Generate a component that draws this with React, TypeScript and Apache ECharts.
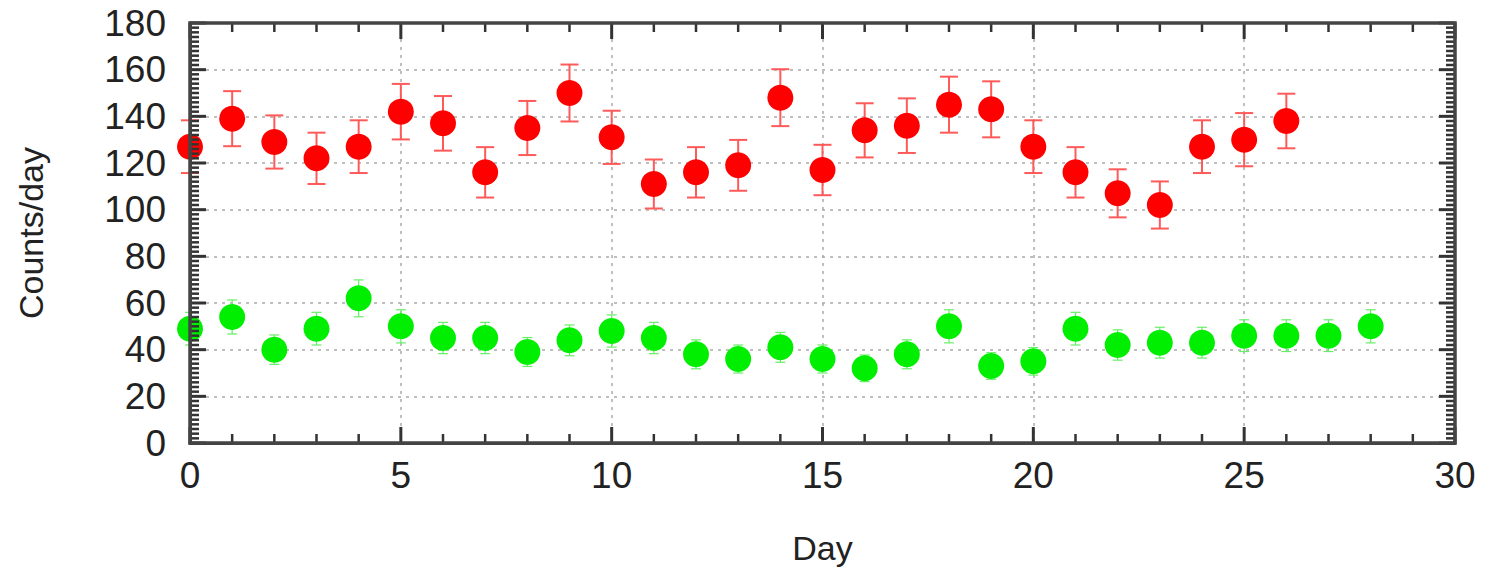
import React, { useEffect, useRef } from "react";
import * as echarts from "echarts";

const redDays = [0, 1, 2, 3, 4, 5, 6, 7, 8, 9, 10, 11, 12, 13, 14, 15, 16, 17, 18, 19, 20, 21, 22, 23, 24, 25, 26];
const redCounts = [127, 139, 129, 122, 127, 142, 137, 116, 135, 150, 131, 111, 116, 119, 148, 117, 134, 136, 145, 143, 127, 116, 107, 102, 127, 130, 138];
const redErr = [11.3, 11.8, 11.4, 11.0, 11.3, 11.9, 11.7, 10.8, 11.6, 12.2, 11.4, 10.5, 10.8, 10.9, 12.2, 10.8, 11.6, 11.7, 12.0, 12.0, 11.3, 10.8, 10.3, 10.1, 11.3, 11.4, 11.7];

const greenDays = [0, 1, 2, 3, 4, 5, 6, 7, 8, 9, 10, 11, 12, 13, 14, 15, 16, 17, 18, 19, 20, 21, 22, 23, 24, 25, 26, 27, 28];
const greenCounts = [49, 54, 40, 49, 62, 50, 45, 45, 39, 44, 48, 45, 38, 36, 41, 36, 32, 38, 50, 33, 35, 49, 42, 43, 43, 46, 46, 46, 50];
const greenErr = [7.0, 7.3, 6.3, 7.0, 7.9, 7.1, 6.7, 6.7, 6.2, 6.6, 6.9, 6.7, 6.2, 6.0, 6.4, 6.0, 5.7, 6.2, 7.1, 5.7, 5.9, 7.0, 6.5, 6.6, 6.6, 6.8, 6.8, 6.8, 7.1];

const xTicks = { min: 0, max: 30, interval: 5, minorStep: 1 };
const yTicks = { min: 0, max: 180, interval: 20, minorStep: 2 };

function errorBars(color: string, capHalf: number, width: number) {
  return (params: any, api: any) => {
    const x = api.value(0);
    const lo = api.coord([x, api.value(1)]);
    const hi = api.coord([x, api.value(2)]);
    const style = { stroke: color, lineWidth: width };
    return {
      type: "group",
      children: [
        { type: "line", shape: { x1: lo[0], y1: lo[1], x2: hi[0], y2: hi[1] }, style },
        { type: "line", shape: { x1: hi[0] - capHalf, y1: hi[1], x2: hi[0] + capHalf, y2: hi[1] }, style },
        { type: "line", shape: { x1: lo[0] - capHalf, y1: lo[1], x2: lo[0] + capHalf, y2: lo[1] }, style },
      ],
    };
  };
}

// frame + mirrored inside ticks, positioned through the axes' scales
function frameTicks(params: any, api: any) {
  const kind = api.value(0); // 0 = x tick, 1 = y tick, 2 = frame
  const v = api.value(1);
  const major = api.value(2) === 1;
  const len = major ? 16 : 9;
  const tickStyle = { stroke: "#333", lineWidth: major ? 3 : 2.5 };
  if (kind === 2) {
    const a = api.coord([xTicks.min, yTicks.max]);
    const b = api.coord([xTicks.max, yTicks.min]);
    return {
      type: "rect",
      shape: { x: a[0], y: a[1], width: b[0] - a[0], height: b[1] - a[1] },
      style: { fill: "none", stroke: "#444", lineWidth: 3.5 },
    };
  }
  if (kind === 0) {
    const b = api.coord([v, yTicks.min]);
    const t = api.coord([v, yTicks.max]);
    return {
      type: "group",
      children: [
        { type: "line", shape: { x1: b[0], y1: b[1], x2: b[0], y2: b[1] - len }, style: tickStyle },
        { type: "line", shape: { x1: t[0], y1: t[1], x2: t[0], y2: t[1] + len }, style: tickStyle },
      ],
    };
  }
  const l = api.coord([xTicks.min, v]);
  const r = api.coord([xTicks.max, v]);
  return {
    type: "group",
    children: [
      { type: "line", shape: { x1: l[0], y1: l[1], x2: l[0] + len, y2: l[1] }, style: tickStyle },
      { type: "line", shape: { x1: r[0], y1: r[1], x2: r[0] - len, y2: r[1] }, style: tickStyle },
    ],
  };
}

export default function App() {
  const ref = useRef<HTMLDivElement>(null);
  useEffect(() => {
    if (!ref.current) return;
    const chart = echarts.init(ref.current, null, { renderer: "svg" });
    const font = "Liberation Sans, Arial, sans-serif";
    const mkSplit = () => ({ show: true, lineStyle: { color: "#aaa", width: 1.5, type: [3, 5] } });
    const redBars = redDays.map((d, i) => [d, redCounts[i] - redErr[i], redCounts[i] + redErr[i]]);
    const greenBars = greenDays.map((d, i) => [d, greenCounts[i] - greenErr[i], greenCounts[i] + greenErr[i]]);

    const tickData: number[][] = [];
    for (let v = xTicks.min; v <= xTicks.max; v += xTicks.minorStep) {
      tickData.push([0, v, v % xTicks.interval === 0 ? 1 : 0]);
    }
    for (let v = yTicks.min; v <= yTicks.max; v += yTicks.minorStep) {
      tickData.push([1, v, v % yTicks.interval === 0 ? 1 : 0]);
    }
    tickData.push([2, 0, 0]);

    chart.setOption({
      animation: false,
      grid: { left: 190, right: 31, top: 23, bottom: 124 },
      xAxis: {
        type: "value",
        min: xTicks.min,
        max: xTicks.max,
        interval: xTicks.interval,
        axisLine: { show: true, onZero: false, lineStyle: { color: "#444", width: 3 } },
        axisTick: { show: false },
        name: "Day",
        nameLocation: "middle",
        nameGap: 88,
        nameTextStyle: { fontFamily: font, fontSize: 34, color: "#222" },
        axisLabel: { fontFamily: font, fontSize: 37, color: "#222", margin: 14 },
        splitLine: mkSplit(),
      },
      yAxis: {
        type: "value",
        min: yTicks.min,
        max: yTicks.max,
        interval: yTicks.interval,
        axisLine: { show: true, onZero: false, lineStyle: { color: "#444", width: 3 } },
        axisTick: { show: false },
        name: "Counts/day",
        nameLocation: "middle",
        nameGap: 142,
        nameRotate: 90,
        nameTextStyle: { fontFamily: font, fontSize: 34, color: "#222" },
        axisLabel: { fontFamily: font, fontSize: 37, color: "#222", margin: 24 },
        splitLine: mkSplit(),
      },
      series: [
        {
          type: "custom",
          name: "redErr",
          renderItem: errorBars("#ff5a5a", 9, 2),
          data: redBars,
          encode: { x: 0, y: [1, 2] },
          clip: false,
          z: 2,
        },
        {
          type: "custom",
          name: "greenErr",
          renderItem: errorBars("#66ee66", 5, 1.2),
          data: greenBars,
          encode: { x: 0, y: [1, 2] },
          clip: false,
          z: 2,
        },
        {
          type: "scatter",
          name: "red",
          data: redDays.map((d, i) => [d, redCounts[i]]),
          symbol: "circle",
          symbolSize: 26,
          itemStyle: { color: "#ff0000", opacity: 1 },
          clip: false,
          z: 3,
        },
        {
          type: "scatter",
          name: "green",
          data: greenDays.map((d, i) => [d, greenCounts[i]]),
          symbol: "circle",
          symbolSize: 26,
          itemStyle: { color: "#00ee00", opacity: 1 },
          clip: false,
          z: 3,
        },
        {
          type: "custom",
          name: "frame",
          renderItem: frameTicks,
          data: tickData,
          encode: { x: 1 },
          clip: false,
          silent: true,
          z: 5,
        },
      ],
    });
    return () => chart.dispose();
  }, []);
  return (
    <div
      ref={ref}
      style={{ position: "absolute", left: 0, top: 0, width: 1486, height: 570, background: "#fff" }}
    />
  );
}
